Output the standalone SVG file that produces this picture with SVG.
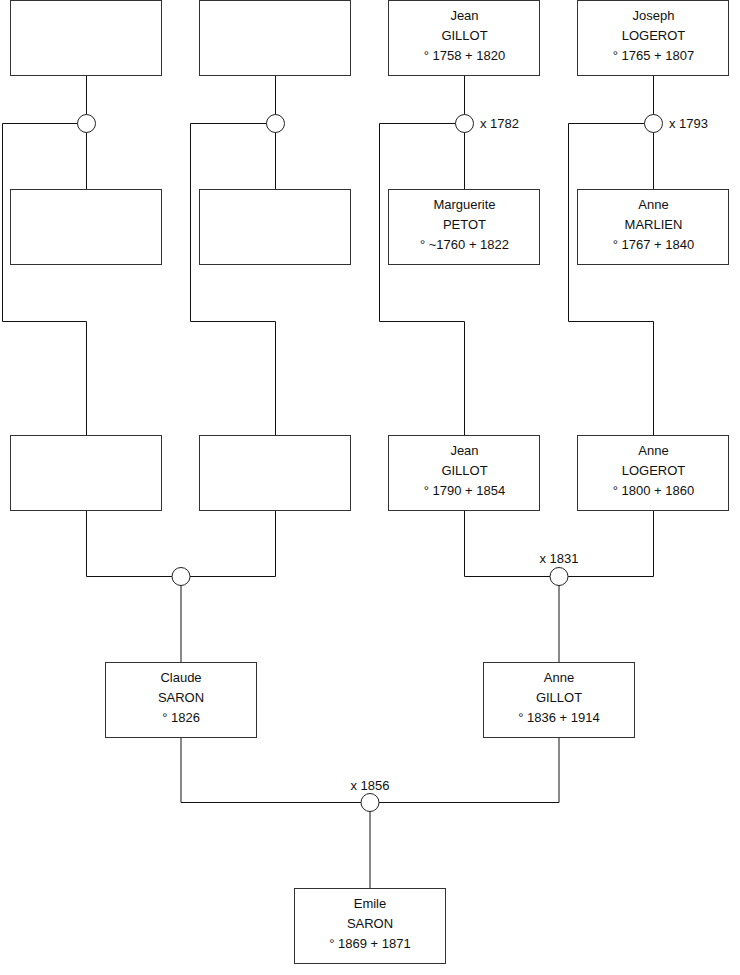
<svg xmlns="http://www.w3.org/2000/svg" width="740" height="975" viewBox="0 0 740 975">
<style>
.box{fill:#fff;stroke:#333;stroke-width:1}
.ln{fill:none;stroke:#111;stroke-width:1}
.m{fill:#fff;stroke:#222;stroke-width:1}
text{font-family:"Liberation Sans",Arial,sans-serif;font-size:13px;fill:#111}
.c{text-anchor:middle}
</style>
<rect width="740" height="975" fill="#fff"/>
<g id="connectors">
<path class="ln" d="M86.5 75.5V189.5M2.5 123.5H86.5M2.5 123.5V321.5H86.5V435.5"/>
<path class="ln" d="M275.5 75.5V189.5M190.5 123.5H275.5M190.5 123.5V321.5H275.5V435.5"/>
<path class="ln" d="M464.5 75.5V189.5M379.5 123.5H464.5M379.5 123.5V321.5H464.5V435.5"/>
<path class="ln" d="M653.5 75.5V189.5M568.5 123.5H653.5M568.5 123.5V321.5H653.5V435.5"/>
<path class="ln" d="M86.5 510.5V576.5H275.5V510.5M181 576.5V662.5"/>
<path class="ln" d="M464.5 510.5V576.5H653.5V510.5M559 576.5V662.5"/>
<path class="ln" d="M181 737.5V802.5H559V737.5M370 802.5V888.5"/>
<circle class="m" cx="86.5" cy="123.5" r="9"/>
<circle class="m" cx="275.5" cy="123.5" r="9"/>
<circle class="m" cx="464.5" cy="123.5" r="9"/>
<circle class="m" cx="653.5" cy="123.5" r="9"/>
<circle class="m" cx="181" cy="576.5" r="9"/>
<circle class="m" cx="559" cy="576.5" r="9"/>
<circle class="m" cx="370" cy="802.5" r="9"/>
<text x="480" y="128">x 1782</text>
<text x="669" y="128">x 1793</text>
<text class="c" x="559" y="563">x 1831</text>
<text class="c" x="370" y="790">x 1856</text>
</g>
<g id="n1"><rect class="box" x="10.5" y="0.5" width="151" height="75"/></g>
<g id="n2"><rect class="box" x="199.5" y="0.5" width="151" height="75"/></g>
<g id="n3"><rect class="box" x="388.5" y="0.5" width="151" height="75"/>
<text class="c" x="464.5" y="20">Jean</text><text class="c" x="464.5" y="40">GILLOT</text><text class="c" x="464.5" y="60">° 1758 + 1820</text></g>
<g id="n4"><rect class="box" x="577.5" y="0.5" width="151" height="75"/>
<text class="c" x="653.5" y="20">Joseph</text><text class="c" x="653.5" y="40">LOGEROT</text><text class="c" x="653.5" y="60">° 1765 + 1807</text></g>
<g id="n5"><rect class="box" x="10.5" y="189.5" width="151" height="75"/></g>
<g id="n6"><rect class="box" x="199.5" y="189.5" width="151" height="75"/></g>
<g id="n7"><rect class="box" x="388.5" y="189.5" width="151" height="75"/>
<text class="c" x="464.5" y="209">Marguerite</text><text class="c" x="464.5" y="229">PETOT</text><text class="c" x="464.5" y="249">° ~1760 + 1822</text></g>
<g id="n8"><rect class="box" x="577.5" y="189.5" width="151" height="75"/>
<text class="c" x="653.5" y="209">Anne</text><text class="c" x="653.5" y="229">MARLIEN</text><text class="c" x="653.5" y="249">° 1767 + 1840</text></g>
<g id="n9"><rect class="box" x="10.5" y="435.5" width="151" height="75"/></g>
<g id="n10"><rect class="box" x="199.5" y="435.5" width="151" height="75"/></g>
<g id="n11"><rect class="box" x="388.5" y="435.5" width="151" height="75"/>
<text class="c" x="464.5" y="455">Jean</text><text class="c" x="464.5" y="475">GILLOT</text><text class="c" x="464.5" y="495">° 1790 + 1854</text></g>
<g id="n12"><rect class="box" x="577.5" y="435.5" width="151" height="75"/>
<text class="c" x="653.5" y="455">Anne</text><text class="c" x="653.5" y="475">LOGEROT</text><text class="c" x="653.5" y="495">° 1800 + 1860</text></g>
<g id="n13"><rect class="box" x="105.5" y="662.5" width="151" height="75"/>
<text class="c" x="181" y="682">Claude</text><text class="c" x="181" y="702">SARON</text><text class="c" x="181" y="722">° 1826</text></g>
<g id="n14"><rect class="box" x="483.5" y="662.5" width="151" height="75"/>
<text class="c" x="559" y="682">Anne</text><text class="c" x="559" y="702">GILLOT</text><text class="c" x="559" y="722">° 1836 + 1914</text></g>
<g id="n15"><rect class="box" x="294.5" y="888.5" width="151" height="75"/>
<text class="c" x="370" y="908">Emile</text><text class="c" x="370" y="928">SARON</text><text class="c" x="370" y="948">° 1869 + 1871</text></g>
</svg>
